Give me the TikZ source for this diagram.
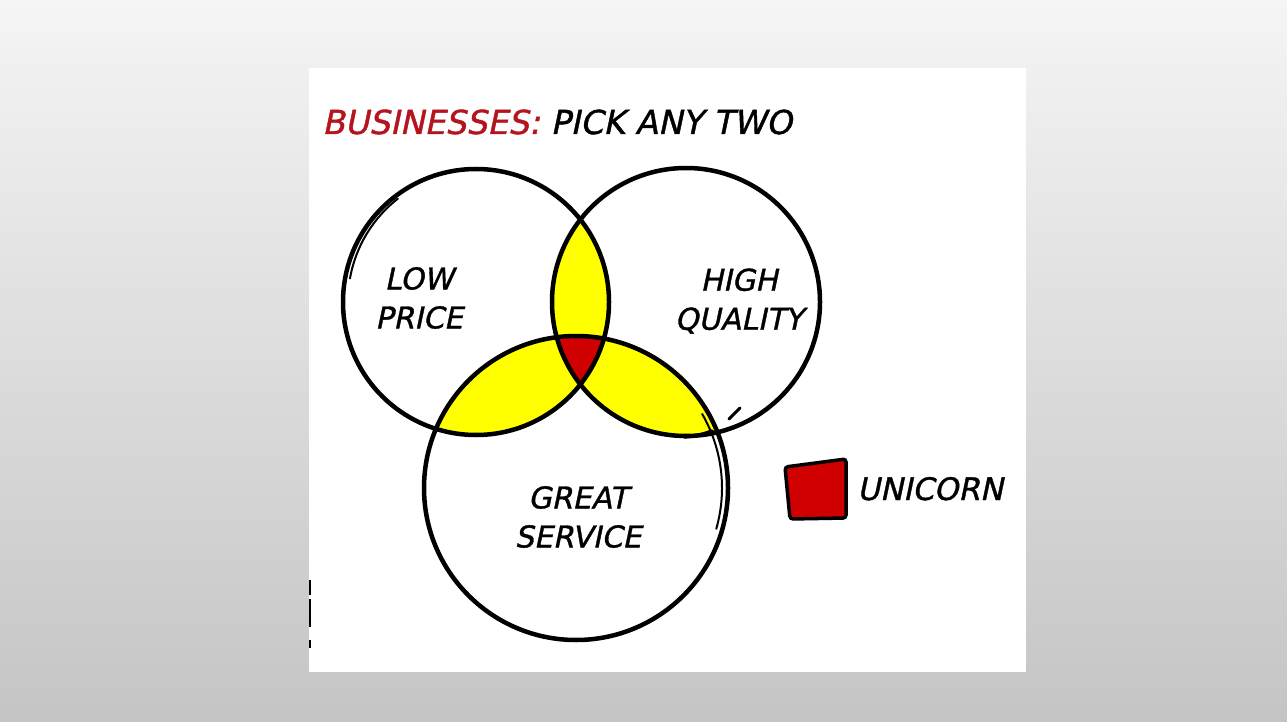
\documentclass[tikz,border=0pt]{standalone}
\usepackage{fontspec}
\newfontfamily\handfont{DejaVu Sans}[FakeSlant=0.21, FakeBold=1.2]
\usetikzlibrary{positioning}

\definecolor{bizred}{HTML}{B3141E}
\definecolor{unired}{HTML}{D00000}
\definecolor{pairyellow}{HTML}{FFFF00}

\begin{document}
\begin{tikzpicture}[x=1pt,y=-1pt]
\tikzset{ring/.style={draw, circle, line width=4.5pt, inner sep=0pt},
  lbl/.style={font=\fontsize{30}{39}\selectfont\handfont, align=center, inner sep=0pt},
  sketch/.style={line width=2pt, line cap=round}}
\useasboundingbox (0,0) rectangle (1287,722);
\shade[top color=black!4, bottom color=black!23] (0,0) rectangle (1287,722);
\fill[white] (309,68) rectangle (1026,672);
% stray marks on the panel edge
\draw[line width=1.4pt] (310,580) -- (310,595);
\draw[line width=1.4pt] (310,599) -- (310,627);
\draw[line width=1.4pt] (310,640) -- (310,648);

% title
\node[lbl, anchor=base west, font=\fontsize{33}{40}\selectfont\handfont] (title) at (322,134)
  {\textcolor{bizred}{BUSINESSES:} PICK ANY TWO};

% overlaps: pairs in yellow, all three in red
\begin{scope}
  \clip (476,302) circle[radius=133];
  \fill[pairyellow] (686,302) circle[radius=134];
  \fill[pairyellow] (576,488) circle[radius=152];
\end{scope}
\begin{scope}
  \clip (686,302) circle[radius=134];
  \fill[pairyellow] (576,488) circle[radius=152];
\end{scope}
\begin{scope}
  \clip (476,302) circle[radius=133];
  \clip (686,302) circle[radius=134];
  \fill[unired] (576,488) circle[radius=152];
\end{scope}

% the three sets
\node[ring, minimum size=266pt] (price) at (476,302) {};
\node[ring, minimum size=268pt] (quality) at (686,302) {};
\node[ring, minimum size=304pt] (service) at (576,488) {};

% doubled pen strokes
\draw[sketch] (478,301) ++(190:130) arc[start angle=190, end angle=232, radius=130];
\draw[sketch] (574,488) ++(-30:148) arc[start angle=-30, end angle=16, radius=148];
\draw[sketch, line width=3pt] (729,419) -- (740,408);
\draw[line width=3.5pt, line cap=round] (684,437) to[bend right=8] (712,431);

\node[lbl] (lowprice) at (419,298) {LOW\\PRICE};
\node[lbl] (highqual) at (739,301) {HIGH\\QUALITY};
\node[lbl] (greatserv) at (578,517) {GREAT\\SERVICE};

% legend
\draw[line width=3.5pt, fill=unired, rounded corners=3pt]
  (785,467) -- (846,459) -- (846,518) -- (790,519) -- cycle;
\node[lbl, anchor=base west, font=\fontsize{31}{38}\selectfont\handfont] (unicorn) at (857,500) {UNICORN};
\end{tikzpicture}
\end{document}
